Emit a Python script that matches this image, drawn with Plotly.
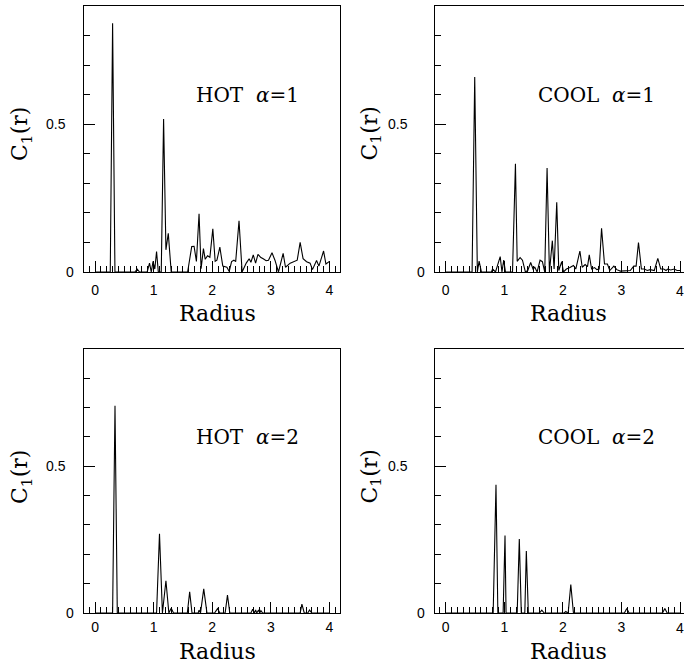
import plotly.graph_objects as go

# ---- data ----
r_hot1 = [0, 0.26, 0.30, 0.34, 0.68, 0.72, 0.76, 0.89, 0.93, 0.96, 0.99, 1.02, 1.05, 1.08, 1.13, 1.17,
          1.21, 1.25, 1.30, 1.58, 1.65, 1.69, 1.73, 1.775, 1.81, 1.85, 1.88, 1.92, 1.96, 2.01, 2.05, 2.08,
          2.13, 2.18, 2.25, 2.29, 2.33, 2.37, 2.40, 2.457, 2.51, 2.58, 2.63, 2.66, 2.70, 2.74, 2.78, 2.83,
          2.87, 2.92, 2.96, 3.02, 3.07, 3.13, 3.21, 3.25, 3.33, 3.40, 3.45, 3.50, 3.55, 3.61, 3.67, 3.71,
          3.78, 3.82, 3.90, 3.94, 4.0]
c_hot1 = [0, 0, 0.842, 0, 0, 0.01, 0, 0, 0.03, 0, 0.036, 0.01, 0.069, 0, 0, 0.518,
          0.075, 0.131, 0, 0, 0.086, 0.087, 0.036, 0.197, 0.011, 0.079, 0.043, 0.055, 0.05, 0.146, 0.036, 0.04,
          0.084, 0.02, 0.016, 0.002, 0.035, 0.04, 0.035, 0.173, 0, 0.03, 0.045, 0.033, 0.058, 0.03, 0.06, 0.049,
          0.045, 0.038, 0.04, 0.065, 0.04, 0, 0.063, 0.016, 0.03, 0.035, 0.04, 0.1, 0.045, 0.035, 0.03, 0.008,
          0.039, 0.02, 0.071, 0.027, 0.036]

r_cool1 = [0, 0.45, 0.495, 0.54, 0.57, 0.61, 0.78, 0.80, 0.85, 0.93, 0.96, 0.99, 1.02, 1.14, 1.19, 1.22,
           1.27, 1.31, 1.36, 1.40, 1.45, 1.49, 1.52, 1.56, 1.61, 1.65, 1.69, 1.73, 1.77, 1.82, 1.85, 1.895,
           1.93, 1.98, 2.01, 2.06, 2.12, 2.18, 2.22, 2.29, 2.33, 2.38, 2.42, 2.45, 2.49, 2.54, 2.58, 2.62,
           2.66, 2.71, 2.76, 2.80, 2.87, 2.92, 2.98, 3.06, 3.15, 3.21, 3.25, 3.29, 3.34, 3.39, 3.44, 3.49,
           3.56, 3.62, 3.67, 3.72, 3.76, 3.79, 3.84, 3.90, 3.95, 4.0]
c_cool1 = [0, 0, 0.66, 0, 0.037, 0, 0, 0.01, 0, 0.052, 0, 0.04, 0, 0, 0.366, 0.036,
           0.049, 0.04, 0, 0.005, 0.032, 0.01, 0.016, 0, 0.04, 0.035, 0, 0.352, 0, 0.106, 0.01, 0.236,
           0.005, 0.035, 0, 0.01, 0.015, 0.022, 0.01, 0.071, 0.016, 0.025, 0.018, 0.058, 0.01, 0.015, 0.008, 0.01,
           0.148, 0.027, 0.027, 0.005, 0.02, 0.008, 0.003, 0.003, 0.005, 0.02, 0.02, 0.1, 0.01, 0.01, 0.005, 0.008,
           0.005, 0.046, 0.01, 0.01, 0.005, 0.01, 0.007, 0.01, 0.005, 0.005]

r_hot2 = [0, 0.30, 0.341, 0.38, 1.05, 1.10, 1.15, 1.21, 1.26, 1.30, 1.34, 1.575, 1.615, 1.655, 1.76, 1.775,
          1.80, 1.855, 1.91, 2.04, 2.09, 2.13, 2.22, 2.26, 2.30, 2.66, 2.69, 2.72, 2.74, 2.76, 2.79, 2.81,
          2.83, 2.86, 3.50, 3.53, 3.57, 3.63, 3.66, 3.70, 4.0]
c_hot2 = [0, 0, 0.706, 0, 0, 0.27, 0, 0.11, 0, 0.016, 0, 0, 0.072, 0, 0, 0.01,
          0, 0.082, 0, 0, 0.015, 0, 0, 0.061, 0, 0, 0.013, 0, 0.01, 0, 0.01, 0,
          0.008, 0, 0, 0.03, 0, 0, 0.01, 0, 0]

r_cool2 = [0, 0.81, 0.858, 0.89, 0.98, 1.012, 1.03, 1.22, 1.256, 1.29, 1.35, 1.376, 1.41, 1.60, 1.64, 1.68,
           2.02, 2.05, 2.08, 2.09, 2.135, 2.18, 3.05, 3.09, 3.13, 3.70, 3.74, 3.78, 4.0]
c_cool2 = [0, 0, 0.437, 0, 0, 0.264, 0, 0, 0.252, 0, 0, 0.211, 0, 0, 0.01, 0,
           0, 0.005, 0, 0, 0.097, 0, 0, 0.015, 0, 0, 0.015, 0, 0]

panel_labels = ["HOT\u00a0\u00a0<i>α</i>=1", "COOL\u00a0\u00a0<i>α</i>=1",
                "HOT\u00a0\u00a0<i>α</i>=2", "COOL\u00a0\u00a0<i>α</i>=2"]
x_ticks = [0, 1, 2, 3, 4]
y_ticks = [0, 0.5]
y_ticklabels = ["0", "0.5"]

W, H = 684, 667
SERIF = "DejaVu Serif"
SANS = "Liberation Sans, Arial, sans-serif"

series = [(r_hot1, c_hot1), (r_cool1, c_cool1), (r_hot2, c_hot2), (r_cool2, c_cool2)]
fig = go.Figure()
for i, (rr, cc) in enumerate(series):
    sfx = "" if i == 0 else str(i + 1)
    fig.add_trace(go.Scatter(x=rr, y=cc, mode="lines", xaxis="x" + sfx, yaxis="y" + sfx,
                             line=dict(color="black", width=1.1), showlegend=False, hoverinfo="skip"))

def px_x(p):
    return p / W

def px_y(p):
    return 1 - p / H

# panel geometry (screen pixels)
cols = [(84, 340), (434.7, 684)]
rows = [(6, 272), (348.7, 613)]
x_ranges = [[-0.188, 4.18], [-0.188, 4.067]]
standoffs = [5, 1]
xlabel_y = [291, 627.7]

layout = dict(width=W, height=H, margin=dict(l=0, r=0, t=0, b=0),
              paper_bgcolor="white", plot_bgcolor="white", showlegend=False)
annotations = []
for i in range(4):
    row, col = divmod(i, 2)
    sfx = "" if i == 0 else str(i + 1)
    x0, x1 = cols[col]
    y0, y1 = rows[row]
    # the right column is cut by the picture edge: its last label is a separate text that gets clipped
    ttext = [str(t) for t in x_ticks]
    if col == 1:
        ttext[-1] = ""
    layout["xaxis" + sfx] = dict(
        domain=[px_x(x0), min(1, px_x(x1))], range=x_ranges[col], anchor="y" + sfx,
        showline=True, linecolor="black", linewidth=1, mirror=True,
        ticks="inside", ticklen=11, tickwidth=1, tickcolor="black",
        tickvals=x_ticks, ticktext=ttext,
        tickfont=dict(family=SANS, size=14, color="black"), ticklabelstandoff=standoffs[row],
        minor=dict(ticks="inside", ticklen=6, dtick=0.1, tick0=0, tickcolor="black", tickwidth=1, showgrid=False),
        showgrid=False, zeroline=False, fixedrange=True)
    layout["yaxis" + sfx] = dict(
        domain=[px_y(y1), px_y(y0)], range=[0, 0.9], anchor="x" + sfx,
        showline=True, linecolor="black", linewidth=1, mirror=(col == 0),
        ticks="inside", ticklen=11, tickwidth=1, tickcolor="black",
        tickvals=y_ticks, showticklabels=False,
        minor=dict(ticks="inside", ticklen=6, dtick=0.1, tick0=0, tickcolor="black", tickwidth=1, showgrid=False),
        showgrid=False, zeroline=False, fixedrange=True)
    if col == 1:
        # pixel position of the last tick, from the axis scale
        xr = x_ranges[col]
        tick_px = x0 + (x_ticks[-1] - xr[0]) / (xr[1] - xr[0]) * (x1 - x0)
        annotations.append(dict(text=str(x_ticks[-1]), xref="paper", yref="paper",
                                x=px_x(tick_px), y=px_y(xlabel_y[row]), xanchor="center", yanchor="middle",
                                showarrow=False, font=dict(family=SANS, size=14, color="black")))

    # panel label
    annotations.append(dict(text=panel_labels[i], xref="x" + sfx, yref="y" + sfx,
                            x=1.69 if col == 0 else 1.54, y=0.6, xanchor="left", yanchor="middle",
                            showarrow=False, font=dict(family=SERIF, size=20, color="black")))
    # y tick labels
    lab_right = [(76, 68), (427, 410)][col]
    for val, txt, xr_px in zip(y_ticks, y_ticklabels, lab_right):
        annotations.append(dict(text=txt, xref="paper", yref="y" + sfx, x=px_x(xr_px), y=val,
                                xanchor="right", yanchor="middle", showarrow=False,
                                font=dict(family=SANS, size=14, color="black")))
    # axis titles
    annotations.append(dict(text="Radius", xref="paper", yref="paper",
                            x=px_x([217.7, 568.3][col]), y=px_y([313, 651][row]),
                            xanchor="center", yanchor="middle", showarrow=False,
                            font=dict(family=SERIF, size=22, color="black")))
    annotations.append(dict(text="C<sub>1</sub>(r)", xref="paper", yref="paper",
                            x=px_x([21, 370.5][col]), y=px_y([134, 477][row]),
                            xanchor="center", yanchor="middle", textangle=-90, showarrow=False,
                            font=dict(family=SERIF, size=22, color="black")))

layout["annotations"] = annotations
fig.update_layout(**layout)
# remove the page's default body margin so the figure sits at the window's corner, without scrollbars
fig.write_html("out.html", config={"displayModeBar": False},
               post_script="document.body.style.margin='0';document.body.style.overflow='hidden';")
